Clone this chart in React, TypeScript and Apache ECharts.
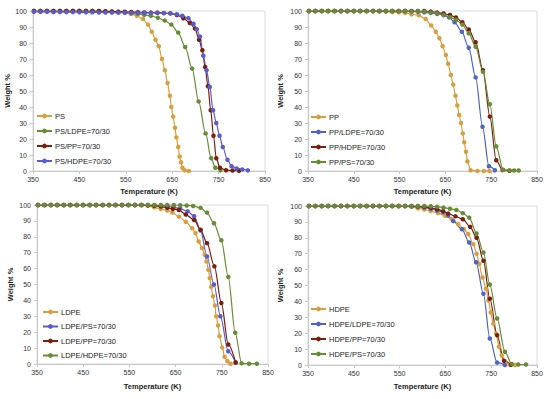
import React, { useEffect, useRef } from "react";
import * as echarts from "echarts";

type Pt = [number, number];

// Panel 1 (PS blends)
const psNames = ["PS", "PS/LDPE=70/30", "PS/PP=70/30", "PS/HDPE=70/30"];
const PS: Pt[] = [[352,100],[366,100],[380,100],[394,100],[408,100],[422,100],[436,100],[450,100],[464,100],[478,100],[492,100],[506,99.8],[520,99.6],[534,99.3],[548,98.9],[561,98.2],[574,97],[587,95],[598,91.5],[606,87],[614,82],[621,78],[628,70],[634,63],[640,55],[645,47],[648,40],[652,34],[656,27],[659,21],[663,15],[666,9],[669,5.5],[672,2],[677,0.4],[686,0]];
const PS_LDPE: Pt[] = [[352,100],[366,100],[380,100],[394,100],[408,100],[422,100],[436,100],[450,100],[464,100],[478,100],[492,99.8],[506,99.6],[520,99.4],[534,99.2],[548,99],[562,98.6],[576,98.2],[590,97.6],[604,97],[619,95.8],[634,94],[648,91.5],[663,86.5],[678,77.5],[693,64],[707,43.5],[722,23.5],[734,8],[743,2],[754,0.4]];
const PS_PP: Pt[] = [[352,100],[366,100],[380,100],[394,100],[408,100],[422,100],[436,100],[450,100],[464,100],[478,100],[492,100],[506,99.8],[520,99.7],[534,99.6],[548,99.5],[562,99.4],[576,99.3],[590,99.1],[604,99],[618,98.9],[632,98.7],[646,98.5],[660,97.5],[674,95.5],[688,92.5],[699,89],[708,82],[715,75.5],[721,65],[727,53],[733,38],[739,22],[745,8],[753,2],[766,0.5],[780,0.3],[794,0.2]];
const PS_HDPE: Pt[] = [[352,99.5],[366,99.5],[380,99.5],[394,99.4],[408,99.4],[422,99.3],[436,99.3],[450,99.2],[464,99.2],[478,99.2],[492,99.1],[506,99.1],[520,99],[534,99],[548,99],[562,98.9],[576,98.9],[590,98.8],[604,98.8],[618,98.8],[632,98.7],[646,98.5],[660,98],[672,97],[685,95.5],[696,92],[703,88.7],[710,84],[717,72],[724,63],[731,52.5],[738,38],[745,30],[752,22],[759,15],[769,7],[778,3],[789,1.6],[801,1],[813,0.4]];

// Panel 2 (PP blends)
const ppNames = ["PP", "PP/LDPE=70/30", "PP/HDPE=70/30", "PP/PS=70/30"];
const PP: Pt[] = [[352,100],[366,100],[380,100],[394,100],[408,100],[422,100],[436,100],[450,100],[464,100],[478,100],[492,100],[506,99.8],[520,99.6],[534,99.4],[548,99.2],[562,98.8],[576,98],[592,97.3],[607,95],[619,91],[629,87],[637,83],[644,78],[651,72.5],[656,67],[662,60],[667,54],[672,47],[676,41],[680,35],[684,30],[688,23.5],[691,18],[695,12],[698,6],[705,0.5],[720,0],[734,0],[746,0]];
const PP_LDPE: Pt[] = [[352,100],[366,100],[380,100],[394,100],[408,100],[422,100],[436,100],[450,100],[464,100],[478,100],[492,100],[506,100],[520,100],[534,100],[548,100],[562,100],[576,99.8],[590,99.5],[604,99.2],[618,98.8],[632,98.2],[646,97.4],[658,96],[670,93],[686,87],[701,77],[716,58.5],[731,27.7],[745,3],[758,0.5]];
const PP_HDPE: Pt[] = [[352,100],[366,100],[380,100],[394,100],[408,100],[422,100],[436,100],[450,100],[464,100],[478,100],[492,100],[506,100],[520,100],[534,100],[548,100],[562,100],[576,100],[590,100],[604,100],[618,99.6],[632,99],[646,98.4],[660,97.5],[673,96],[687,93],[701,88.5],[716,80.5],[732,63],[747,34],[761,6.7],[775,0.6],[790,0.2]];
const PP_PS: Pt[] = [[352,100],[366,100],[380,100],[394,100],[408,100],[422,100],[436,100],[450,100],[464,100],[478,100],[492,100],[506,100],[520,100],[534,100],[548,100],[562,100],[576,99.9],[590,99.8],[604,99.6],[618,99],[632,98.4],[646,97.5],[660,96.2],[673,94.5],[687,91.5],[701,86],[716,77.7],[732,62],[747,41.7],[761,15.4],[776,0.8],[790,0.3],[800,0.3],[810,0.3]];

// Panel 3 (LDPE blends)
const ldpeNames = ["LDPE", "LDPE/PS=70/30", "LDPE/PP=70/30", "LDPE/HDPE=70/30"];
const LDPE: Pt[] = [[352,100],[366,100],[380,100],[394,100],[408,100],[422,100],[436,100],[450,100],[464,100],[478,100],[492,100],[506,100],[520,100],[534,100],[548,100],[562,100],[576,100],[590,99.5],[604,98.5],[618,97.5],[632,96.5],[643,95.2],[657,92.7],[672,89.5],[686,85.4],[693,82.3],[700,77],[707,73],[713,68.7],[717,64.5],[721,59.3],[724,54],[727,48.5],[731,42.6],[735,36.8],[738,30],[742,24.2],[745,17.5],[751,10.3],[756,4.6],[762,1.9],[769,0.2]];
const LDPE_PS: Pt[] = [[352,100],[366,100],[380,100],[394,100],[408,100],[422,100],[436,100],[450,100],[464,100],[478,100],[492,100],[506,100],[520,100],[534,100],[548,100],[562,100],[576,100],[590,100],[604,99.8],[618,99.6],[632,99.2],[646,98.6],[660,97.8],[676,96],[690,93],[704,84],[718,67.6],[733,50],[747,30],[764,8],[780,0.9]];
const LDPE_PP: Pt[] = [[352,100],[366,100],[380,100],[394,100],[408,100],[422,100],[436,100],[450,100],[464,100],[478,100],[492,100],[506,100],[520,100],[534,100],[548,100],[562,100],[576,100],[590,99.8],[604,99.5],[618,99],[632,98.3],[644,97.5],[657,96.9],[672,94],[690,90.6],[704,84.4],[718,76],[734,61.4],[749,38.4],[764,12.3],[780,0.9]];
const LDPE_HDPE: Pt[] = [[352,100],[366,100],[380,100],[394,100],[408,100],[422,100],[436,100],[450,100],[464,100],[478,100],[492,100],[506,100],[520,100],[534,100],[548,100],[562,100],[576,100],[590,100],[604,100],[618,100],[632,100],[646,100],[660,99.9],[674,99.7],[688,99.4],[704,98.2],[718,95.2],[733,88.5],[749,77.8],[764,54.7],[779,19.7],[793,0.4],[809,0.2],[826,0.2]];

// Panel 4 (HDPE blends)
const hdpeNames = ["HDPE", "HDPE/LDPE=70/30", "HDPE/PP=70/30", "HDPE/PS=70/30"];
const HDPE: Pt[] = [[352,100],[366,100],[380,100],[394,100],[408,100],[422,100],[436,100],[450,100],[464,100],[478,100],[492,100],[506,100],[520,100],[534,100],[548,100],[562,99.8],[576,99.5],[590,98.5],[604,97.8],[618,96.8],[634,95.5],[649,93.8],[664,91.7],[678,88.5],[690,85.5],[700,82.3],[711,76],[718,70],[724,63.5],[731,55],[738.6,48],[744,40.6],[749,33],[754.6,26],[760.5,19.8],[767,11.5],[773,6],[780,2],[791,0.2],[802,0]];
const HDPE_LDPE: Pt[] = [[352,100],[366,100],[380,100],[394,100],[408,100],[422,100],[436,100],[450,100],[464,100],[478,100],[492,100],[506,100],[520,100],[534,100],[548,100],[562,100],[576,99.8],[590,99.5],[604,99],[618,98.3],[632,97.2],[645,96],[656,94],[667,90.6],[686,85.4],[702,77],[717,64.6],[733,44.8],[747,16.7],[763,1.5],[780,0]];
const HDPE_PP: Pt[] = [[352,100],[366,100],[380,100],[394,100],[408,100],[422,100],[436,100],[450,100],[464,100],[478,100],[492,100],[506,100],[520,100],[534,100],[548,100],[562,100],[576,100],[590,99.8],[604,99.5],[618,98.8],[632,98],[645,96.8],[656,95.2],[672,93.5],[688,91.7],[704,86.9],[718,80],[733,65.6],[747,41.7],[763,18.7],[778,2.7],[793,0.2]];
const HDPE_PS: Pt[] = [[352,100],[366,100],[380,100],[394,100],[408,100],[422,100],[436,100],[450,100],[464,100],[478,100],[492,100],[506,100],[520,100],[534,100],[548,100],[562,100],[576,100],[590,100],[604,100],[618,99.8],[632,99.5],[646,99],[660,98.3],[674,97.5],[688,95.5],[702,92.7],[718,82.7],[733,70.8],[747,50.6],[763,29.2],[780,8.3],[795,0.6],[809,0.3],[826,0.3]];

const GOLD = "#D6A040";
const GREEN = "#678C35";
const DARKRED = "#7A1E0E";
const BLUE = "#4E63C4";
const PURPLE = "#5B5BD0";

const FONT = "'Liberation Sans', Arial, sans-serif";

const panels = [
  { names: psNames, data: [PS, PS_LDPE, PS_PP, PS_HDPE], colors: [GOLD, GREEN, DARKRED, PURPLE],
    grid: { left: 33, top: 11, width: 232, height: 160 }, legend: { left: 36, top: 112 }, gap: 7, yGap: 19, xGap: 16 },
  { names: ppNames, data: [PP, PP_LDPE, PP_HDPE, PP_PS], colors: [GOLD, BLUE, DARKRED, GREEN],
    grid: { left: 308, top: 11, width: 229, height: 160 }, legend: { left: 310, top: 113 }, gap: 7, yGap: 24, xGap: 16 },
  { names: ldpeNames, data: [LDPE, LDPE_PS, LDPE_PP, LDPE_HDPE], colors: [GOLD, PURPLE, DARKRED, GREEN],
    grid: { left: 37, top: 205, width: 231, height: 159 }, legend: { left: 42, top: 308 }, gap: 6.5, yGap: 23, xGap: 18 },
  { names: hdpeNames, data: [HDPE, HDPE_LDPE, HDPE_PP, HDPE_PS], colors: [GOLD, BLUE, DARKRED, GREEN],
    grid: { left: 308, top: 206, width: 229, height: 159 }, legend: { left: 310, top: 305 }, gap: 7, yGap: 24, xGap: 17 },
];

export default function App() {
  const ref = useRef<HTMLDivElement>(null);
  useEffect(() => {
    document.body.style.margin = "0";
    if (!ref.current) return;
    const chart = echarts.init(ref.current, undefined, { renderer: "svg" });
    const axisColor = "#C8C8C8";
    const option: any = {
      animation: false,
      backgroundColor: "#ffffff",
      textStyle: { fontFamily: FONT },
      grid: panels.map((p) => ({ ...p.grid, show: true, borderColor: "#DADADA", borderWidth: 1, containLabel: false })),
      xAxis: panels.map((p, i) => ({
        type: "value", gridIndex: i, min: 350, max: 850, interval: 100,
        name: "Temperature (K)", nameLocation: "middle", nameGap: p.xGap,
        nameTextStyle: { fontFamily: FONT, fontSize: 7.5, fontWeight: "bold", color: "#222" },
        axisLine: { show: true, lineStyle: { color: axisColor } },
        axisTick: { show: true, length: 3, lineStyle: { color: axisColor } },
        axisLabel: { fontFamily: FONT, fontSize: 7, color: "#333", margin: 5 },
        splitLine: { show: false },
      })),
      yAxis: panels.map((p, i) => ({
        type: "value", gridIndex: i, min: 0, max: 100, interval: 10,
        name: "Weight %", nameLocation: "middle", nameGap: p.yGap, nameRotate: 90,
        nameTextStyle: { fontFamily: FONT, fontSize: 7.5, fontWeight: "bold", color: "#222" },
        axisLine: { show: true, lineStyle: { color: axisColor } },
        axisTick: { show: true, length: 3, lineStyle: { color: axisColor } },
        axisLabel: { fontFamily: FONT, fontSize: 7, color: "#333", margin: 6 },
        splitLine: { show: false },
      })),
      legend: panels.map((p) => ({
        orient: "vertical", left: p.legend.left, top: p.legend.top, data: p.names,
        itemWidth: 15, itemHeight: 6, itemGap: p.gap, padding: 0,
        textStyle: { fontFamily: FONT, fontSize: 7.5, color: "#222", padding: [0, 0, 0, -2] },
      })),
      series: panels.flatMap((p, i) =>
        p.names.map((name, k) => ({
          type: "line", name, xAxisIndex: i, yAxisIndex: i, data: p.data[k],
          smooth: 0.3, smoothMonotone: "x",
          symbol: "circle", symbolSize: 4.5,
          itemStyle: { color: p.colors[k] },
          lineStyle: { color: p.colors[k], width: 1.2 },
        }))
      ),
    };
    chart.setOption(option);
    return () => chart.dispose();
  }, []);
  return <div ref={ref} style={{ width: 550, height: 399 }} />;
}
